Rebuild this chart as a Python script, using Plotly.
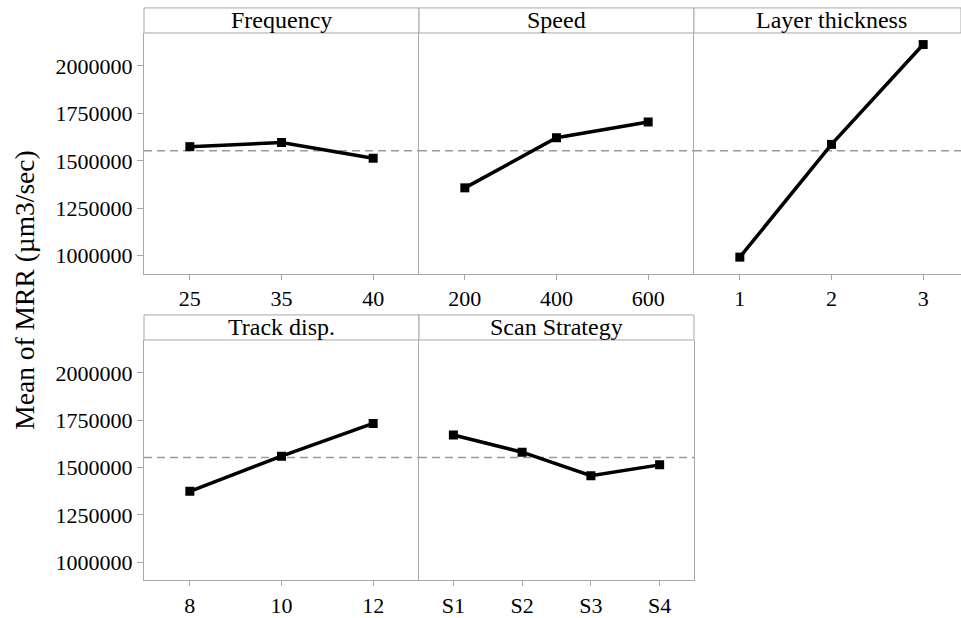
import plotly.graph_objects as go

# ---- data ----
freq_labels = ["25", "35", "40"]
freq_vals = [1575000, 1597000, 1514000]
speed_labels = ["200", "400", "600"]
speed_vals = [1358000, 1622000, 1705000]
layer_labels = ["1", "2", "3"]
layer_vals = [993000, 1587000, 2113000]
track_labels = ["8", "10", "12"]
track_vals = [1374000, 1560000, 1733000]
scan_labels = ["S1", "S2", "S3", "S4"]
scan_vals = [1672000, 1581000, 1457000, 1514000]
grand_mean = 1553000
panel_titles = ["Frequency", "Speed", "Layer thickness", "Track disp.", "Scan Strategy"]
y_ticks = [1000000, 1250000, 1500000, 1750000, 2000000]
y_title = "Mean of MRR (µm3/sec)"

W, H = 961, 618
FONT = "Liberation Serif"
BORDER = "#a8a8a8"

# panel geometry in pixels
cols = [(144, 419), (419, 694), (694, 961)]
top_row = (33.3, 276.7, 8)      # plot top, plot bottom, header top
bot_row = (343.3, 586, 318)

# (labels, values, columns, row, show y labels, x max, draw right border)
panels = [
    (freq_labels, freq_vals, cols[0], top_row, True, 2.5, False),
    (speed_labels, speed_vals, cols[1], top_row, False, 2.5, False),
    (layer_labels, layer_vals, cols[2], top_row, False, 2.5 - (969 - 961) / (275 / 3), False),
    (track_labels, track_vals, cols[0], bot_row, True, 2.5, False),
    (scan_labels, scan_vals, cols[1], bot_row, False, None, True),
]

fig = go.Figure()
shapes = []
annotations = []

for i, (labels, vals, (x0, x1), (pt, pb, ht), show_y, xmax, right_border) in enumerate(panels):
    n = i + 1
    xa = "x" if n == 1 else f"x{n}"
    ya = "y" if n == 1 else f"y{n}"
    xs = list(range(len(labels)))
    if xmax is None:
        xmax = len(labels) - 0.5
    fig.add_trace(go.Scatter(
        x=xs, y=vals, xaxis=xa, yaxis=ya, mode="lines+markers",
        line=dict(color="black", width=3.5),
        marker=dict(symbol="square", size=9, color="black"),
        showlegend=False, hoverinfo="skip",
    ))
    xkey = "xaxis" if n == 1 else f"xaxis{n}"
    ykey = "yaxis" if n == 1 else f"yaxis{n}"
    fig.layout[xkey] = dict(
        domain=[x0 / W, x1 / W], anchor=ya, range=[-0.5, xmax],
        tickmode="array", tickvals=xs, ticktext=labels,
        ticks="outside", ticklen=5, tickcolor=BORDER,
        showline=True, linecolor=BORDER, linewidth=1, mirror=False,
        showgrid=False, zeroline=False, fixedrange=True,
        tickfont=dict(family=FONT, size=22, color="black"),
    )
    fig.layout[ykey] = dict(
        domain=[1 - pb / H, 1 - pt / H], anchor=xa, range=[904000, 2174000],
        tickmode="array", tickvals=y_ticks, ticktext=[str(v) for v in y_ticks],
        ticks="outside" if show_y else "", ticklen=6, tickcolor=BORDER,
        showticklabels=show_y,
        showline=True, linecolor=BORDER, linewidth=1, mirror=right_border,
        showgrid=False, zeroline=False, fixedrange=True,
        tickfont=dict(family=FONT, size=22, color="black"),
    )
    # grand mean dashed line
    shapes.append(dict(
        type="line", xref=f"{xa} domain", yref=ya, x0=0, x1=1,
        y0=grand_mean, y1=grand_mean, layer="below",
        line=dict(color="#9a9a9a", width=1.5, dash="8px,5px"),
    ))
    # header strip
    shapes.append(dict(
        type="rect", xref="paper", yref="paper",
        x0=x0 / W, x1=min(x1, W) / W, y0=1 - pt / H, y1=1 - ht / H,
        line=dict(color=BORDER, width=1), fillcolor="white", layer="below",
    ))
    annotations.append(dict(
        text=panel_titles[i], xref="paper", yref="paper",
        x=(x0 + 137.5) / W,
        y=1 - ((pt + ht) / 2) / H, xanchor="center", yanchor="middle",
        showarrow=False, font=dict(family=FONT, size=24, color="black"),
    ))

annotations.append(dict(
    text=y_title, xref="paper", yref="paper", x=25 / W, y=1 - 293.5 / H,
    xanchor="center", yanchor="middle", textangle=-90, showarrow=False,
    font=dict(family=FONT, size=27.5, color="black"),
))

fig.update_layout(
    width=W, height=H, margin=dict(l=0, r=0, t=0, b=0),
    paper_bgcolor="white", plot_bgcolor="white",
    shapes=shapes, annotations=annotations,
)

fig.write_html(
    "out.html",
    config={"displayModeBar": False},
    post_script="document.body.style.margin='0';document.body.style.overflow='hidden';",
)
